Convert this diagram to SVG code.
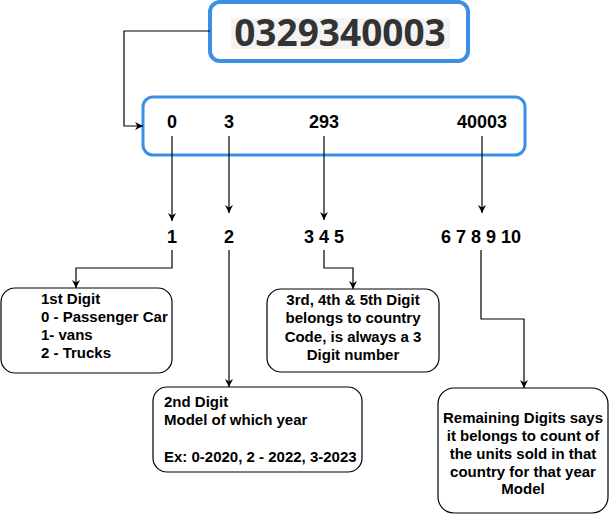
<svg xmlns="http://www.w3.org/2000/svg" width="612" height="518" viewBox="0 0 612 518">
<defs>
<marker id="arr" viewBox="0 0 10 10" refX="10" refY="5" markerWidth="8" markerHeight="8" markerUnits="userSpaceOnUse" orient="auto">
<path d="M0,0 L10,5 L0,10 L3,5 Z" fill="#000"/>
</marker>
</defs>
<style>
.blue{fill:#fff;stroke:#3b8fe5}
.box{fill:#fff;stroke:#000;stroke-width:1.2}
.t{font-family:"Liberation Sans",Arial,sans-serif;font-weight:bold;fill:#000}
.n{font-size:18px;text-anchor:middle}
.b{font-size:15px}
.c{text-anchor:middle}
.conn path{fill:none;stroke:#000;stroke-width:1.2;marker-end:url(#arr)}
</style>
<rect width="612" height="518" fill="#fff"/>
<g id="code">
<rect class="blue" x="210" y="2" width="258" height="59" rx="10" stroke-width="4"/>
<rect x="231" y="18" width="219" height="31" fill="#f3f3f3"/>
<text x="340" y="46" font-family="'Open Sans',sans-serif" font-weight="bold" font-size="37" fill="#333" text-anchor="middle">0329340003</text>
</g>
<g id="split">
<rect class="blue" x="143" y="97" width="382" height="58" rx="10" stroke-width="3"/>
<text class="t n" x="172" y="128">0</text>
<text class="t n" x="229" y="128">3</text>
<text class="t n" x="324" y="128">293</text>
<text class="t n" x="482" y="128">40003</text>
</g>
<g id="pos1"><text class="t n" x="172" y="243">1</text></g>
<g id="pos2"><text class="t n" x="229" y="243">2</text></g>
<g id="pos345"><text class="t n" x="324" y="243">3 4 5</text></g>
<g id="pos6to10"><text class="t n" x="481" y="243">6 7 8 9 10</text></g>
<g id="box1">
<rect class="box" x="1" y="288" width="171" height="85" rx="14"/>
<text class="t b" x="41" y="304">1st Digit</text>
<text class="t b" x="41" y="322">0 - Passenger Car</text>
<text class="t b" x="41" y="340">1- vans</text>
<text class="t b" x="41" y="358">2 - Trucks</text>
</g>
<g id="box2">
<rect class="box" x="153" y="387" width="209" height="85" rx="14"/>
<text class="t b" x="164" y="407">2nd Digit</text>
<text class="t b" x="164" y="425">Model of which year</text>
<text class="t b" x="164" y="462">Ex: 0-2020, 2 - 2022, 3-2023</text>
</g>
<g id="box3">
<rect class="box" x="267" y="289" width="172" height="83" rx="14"/>
<text class="t b c" x="353" y="305">3rd, 4th &amp; 5th Digit</text>
<text class="t b c" x="353" y="323">belongs to country</text>
<text class="t b c" x="353" y="342">Code, is always a 3</text>
<text class="t b c" x="353" y="360">Digit number</text>
</g>
<g id="box4">
<rect class="box" x="438" y="388" width="170" height="125" rx="16"/>
<text class="t b c" x="523" y="423">Remaining Digits says</text>
<text class="t b c" x="523" y="441">it belongs to count of</text>
<text class="t b c" x="523" y="459">the units sold in that</text>
<text class="t b c" x="523" y="477">country for that year</text>
<text class="t b c" x="523" y="494">Model</text>
</g>
<g id="connectors" class="conn">
<path d="M210,31 H124 V126 H143"/>
<path d="M172,136 V221"/>
<path d="M229,136 V213"/>
<path d="M324,136 V220"/>
<path d="M482,136 V213"/>
<path d="M172,250 V268 H76 V288"/>
<path d="M229,250 V387"/>
<path d="M324,250 V268 H353 V289"/>
<path d="M481,250 V319 H524 V388"/>
</g>
</svg>
